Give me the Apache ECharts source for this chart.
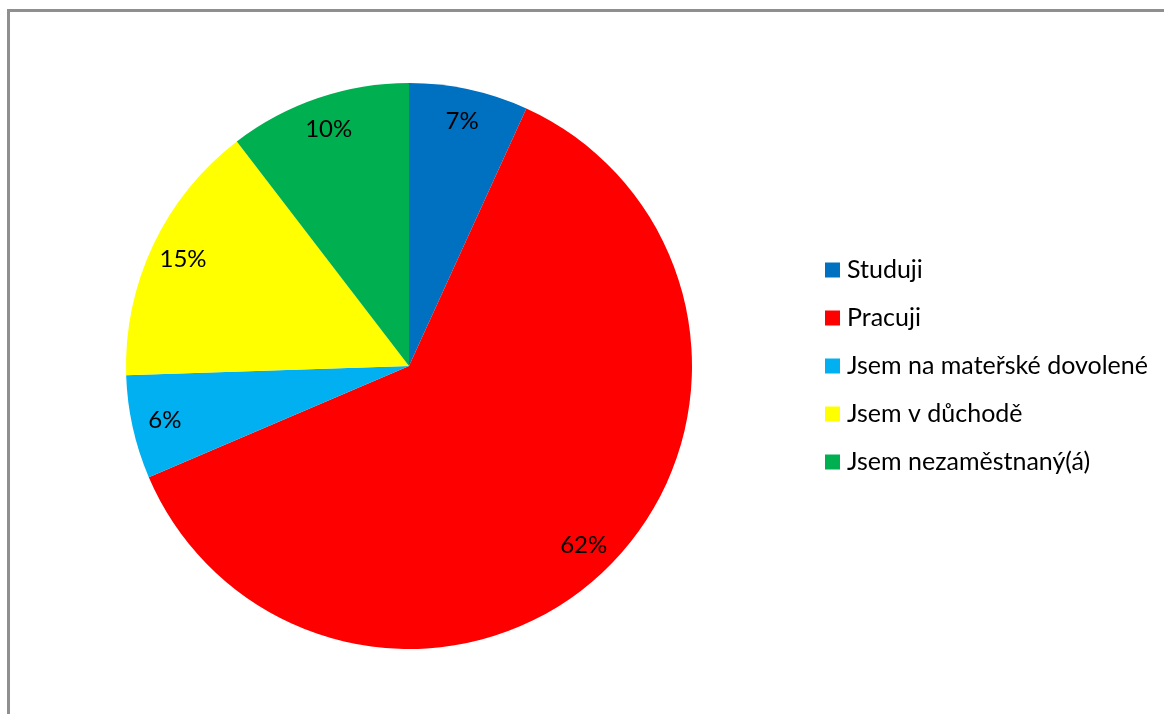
<!DOCTYPE html>
<html>
<head>
<meta charset="utf-8">
<script src="https://cdn.jsdelivr.net/npm/echarts@6/dist/echarts.min.js"></script>
<style>
  html, body { margin: 0; padding: 0; background: #fff; }
  #chart { width: 1164px; height: 714px; }
</style>
</head>
<body>
<div id="chart"></div>
<script>
// Current status of respondents (share of answers)
const categories = ['Studuji', 'Pracuji', 'Jsem na mateřské dovolené', 'Jsem v důchodě', 'Jsem nezaměstnaný(á)'];
const shares = [6.8, 61.7, 5.9, 15.1, 10.4];
const colors = ['#0070C0', '#FF0000', '#00B0F0', '#FFFF00', '#00B050'];

const FONT = 'Lato, "Open Sans", sans-serif';
const R = 283;
const CENTER = [409, 366];

const pieData = categories.map((name, i) => ({ name, value: shares[i], itemStyle: { color: colors[i] } }));

const chart = echarts.init(document.getElementById('chart'), null, { renderer: 'canvas' });
chart.setOption({
  animation: false,
  backgroundColor: '#ffffff',
  graphic: [{
    type: 'rect',
    shape: { x: 8.5, y: 10.5, width: 1300, height: 900 },
    style: { fill: 'none', stroke: '#8f8f8f', lineWidth: 3 },
    silent: true
  }],
  legend: {
    orient: 'vertical',
    left: 825,
    top: 257,
    padding: 0,
    icon: 'rect',
    itemWidth: 15,
    itemHeight: 15,
    itemGap: 22,
    data: categories,
    textStyle: { fontFamily: FONT, fontSize: 25, color: '#000', lineHeight: 26, padding: [0, 0, 0, 2] }
  },
  series: [
    {
      type: 'pie',
      center: CENTER,
      radius: R,
      startAngle: 90,
      clockwise: true,
      percentPrecision: 0,
      label: { show: false },
      labelLine: { show: false },
      emphasis: { disabled: true },
      data: pieData
    },
    {
      // transparent ring carrying the percentage labels near the rim
      type: 'pie',
      center: CENTER,
      radius: [Math.round(R * 0.746), R],
      startAngle: 90,
      clockwise: true,
      silent: true,
      percentPrecision: 0,
      itemStyle: { color: 'rgba(0,0,0,0)' },
      label: {
        show: true,
        position: 'inside',
        formatter: '{d}%',
        fontFamily: FONT,
        fontSize: 24,
        color: '#000',
        padding: [6, 0, 0, 0]
      },
      labelLine: { show: false },
      emphasis: { disabled: true },
      data: categories.map((name, i) => ({ name, value: shares[i] }))
    }
  ]
});
</script>
</body>
</html>
